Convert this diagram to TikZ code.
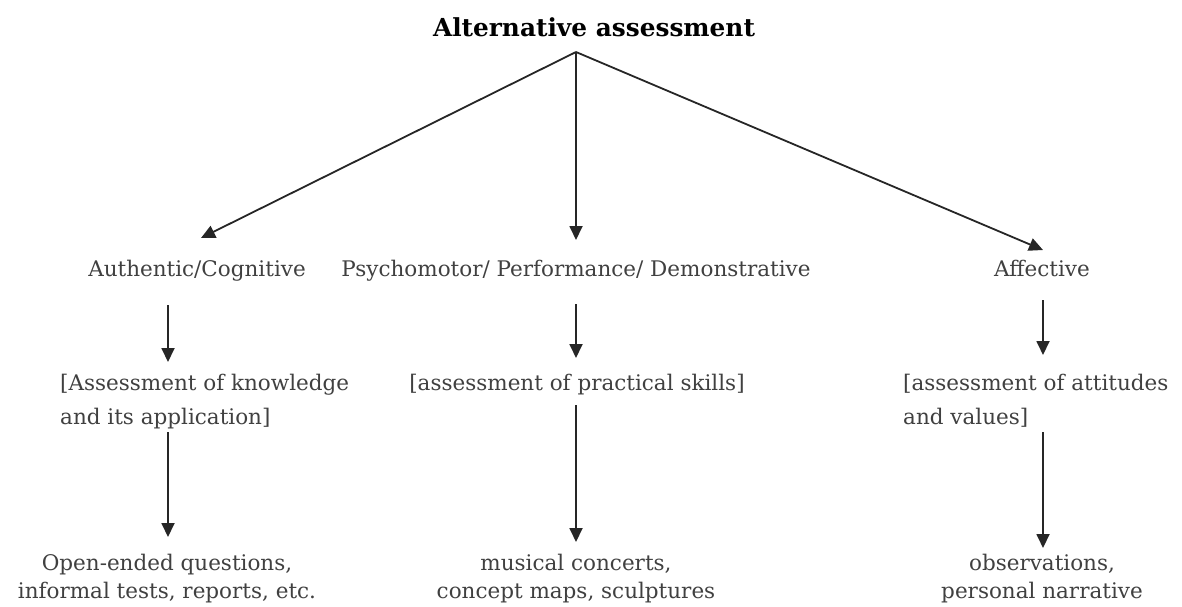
\documentclass[tikz,border=0pt]{standalone}
\usepackage{fontspec}
\setmainfont{DejaVu Serif}
\usetikzlibrary{arrows.meta}
\definecolor{txt}{HTML}{404040}
\begin{document}
\begin{tikzpicture}[x=1pt,y=-1pt,
  lbl/.style={inner sep=0pt,text=txt,font=\fontsize{21.5}{34}\selectfont},
  two/.style={lbl,align=center,anchor=north,font=\fontsize{21.5}{28}\selectfont},
  arr/.style={draw=black!85,line width=1.8pt,-{Triangle[length=14pt,width=13pt]}},
  every node/.append style={anchor=base}]
\useasboundingbox (0,0) rectangle (1182,606);
% title
\node[inner sep=0pt,font=\fontsize{24.8}{28}\bfseries\selectfont] (t) at (594,36) {Alternative assessment};
\coordinate (apex) at (576,52);
% level 1
\node[lbl] (a1) at (197,276) {Authentic/Cognitive};
\node[lbl] (b1) at (576,276) {Psychomotor/ Performance/ Demonstrative};
\node[lbl] (c1) at (1042,276) {Affective};
% arrow ends and columns
\coordinate (la) at (201,238);
\coordinate (ma) at (576,240);
\coordinate (ra) at (1043,250);
\coordinate (colA) at (168,0);
\coordinate (colB) at (576,0);
\coordinate (colC) at (1043,0);
% level 2
\node[lbl,align=left,anchor=north west] (a2) at (60,374) {[Assessment of knowledge\\and its application]};
\node[lbl,anchor=north] (b2) at (577,374) {[assessment of practical skills]};
\node[lbl,align=left,anchor=north west] (c2) at (903,374) {[assessment of attitudes\\and values]};
% level 3
\node[two] (a3) at (167,554) {Open-ended questions,\\informal tests, reports, etc.};
\node[two] (b3) at (576,554) {musical concerts,\\concept maps, sculptures};
\node[two] (c3) at (1042,554) {observations,\\personal narrative};
% connectors
\draw[arr] (apex) -- (la);
\draw[arr] (apex) -- (ma);
\draw[arr] (apex) -- (ra);
\draw[arr] (colA |- 0,305) -- (colA |- 0,362);
\draw[arr] (colB |- 0,304) -- (colB |- 0,358);
\draw[arr] (colC |- 0,300) -- (colC |- 0,355);
\draw[arr] (colA |- 0,432) -- (colA |- 0,537);
\draw[arr] (colB |- 0,405) -- (colB |- 0,542);
\draw[arr] (colC |- 0,432) -- (colC |- 0,548);
\end{tikzpicture}
\end{document}
